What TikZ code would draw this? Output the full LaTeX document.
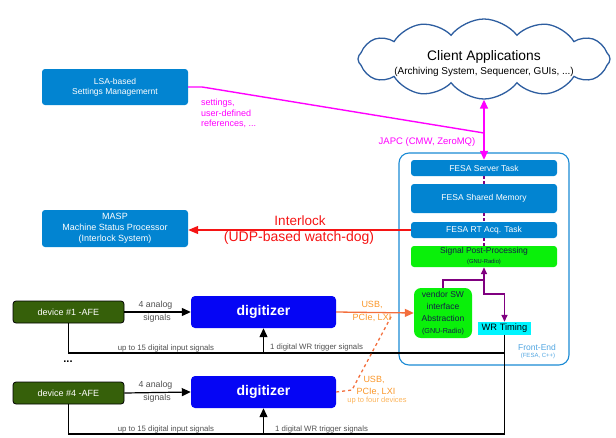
\documentclass[tikz,border=0pt]{standalone}
\usepackage{fontspec}
\setmainfont{Liberation Sans}
\usetikzlibrary{shapes.symbols,arrows.meta,calc}
\definecolor{fesablue}{RGB}{2,132,209}
\definecolor{feborder}{RGB}{26,138,212}
\definecolor{digblue}{RGB}{5,5,245}
\definecolor{devgreen}{RGB}{54,96,10}
\definecolor{brgreen}{RGB}{10,240,10}
\definecolor{wrcyan}{RGB}{0,245,255}
\definecolor{mypurple}{RGB}{128,0,128}
\definecolor{mymagenta}{RGB}{255,0,255}
\definecolor{myred}{RGB}{245,20,20}
\definecolor{orline}{RGB}{243,110,60}
\definecolor{ortext}{RGB}{250,150,40}
\definecolor{ortextl}{RGB}{252,180,90}
\definecolor{sigtext}{RGB}{80,80,80}
\definecolor{felabel}{RGB}{80,165,225}
\definecolor{cloudb}{RGB}{46,94,160}
\definecolor{darktext}{RGB}{20,30,70}
\tikzset{
  fsz/.style={font={\pgfmathsetmacro\myfszb{#1*1.2}\fontsize{#1}{\myfszb}\selectfont}},
  bluebox/.style={fill=fesablue, draw=none, rounded corners=3pt, text=white, align=center, fsz=8.5, inner sep=0pt},
  greenbox/.style={fill=brgreen, draw=none, rounded corners=3pt, text=darktext, align=center, inner sep=0pt},
  devbox/.style={fill=devgreen, draw=black, line width=0.8pt, rounded corners=3pt, text=white, fsz=9, minimum width=111pt, minimum height=22pt, inner sep=0pt},
  digbox/.style={fill=digblue, draw=none, rounded corners=4pt, text=white, font=\fontsize{14}{16}\selectfont\bfseries, minimum width=145pt, minimum height=32pt, inner sep=0pt},
  blk/.style={draw=black, line width=1.2pt},
  tri/.style={-{Triangle[length=9pt,width=8pt]}},
  sigl/.style={text=sigtext, fsz=7.8, inner sep=0pt},
  anl/.style={text=sigtext, fsz=8.8, inner sep=0pt, align=center},
  purp/.style={draw=mypurple, line width=1.5pt},
  mag/.style={draw=mymagenta, line width=1.4pt},
  ortx/.style={text=ortext, fsz=9, inner sep=0pt},
}
\begin{document}
\begin{tikzpicture}[x=1pt,y=-1pt]
\useasboundingbox (0,0) rectangle (616,437);
% cloud
\node[cloud, cloud puffs=12, cloud puff arc=105, aspect=3.1, draw=cloudb, line width=1.3pt, fill=white,
  minimum width=252pt, minimum height=80pt, inner sep=0pt] (cloud) at (484,59) {};
\node[fsz=13.8, inner sep=0pt] (ct1) at (484,57) {Client Applications};
\node[fsz=10, inner sep=0pt] (ct2) at (484,72) {(Archiving System, Sequencer, GUIs, ...)};
% left boxes
\node[bluebox, minimum width=146pt, minimum height=36pt] (lsa) at (115,87) {LSA-based\\Settings Managemernt};
\node[bluebox, fsz=9, minimum width=146pt, minimum height=37pt] (masp) at (115,228.5) {MASP\\Machine Status Processor\\(Interlock System)};
% front-end container
\node[draw=feborder, line width=1.1pt, rounded corners=10pt, minimum width=170pt, minimum height=212pt, inner sep=0pt] (fe) at (484,259) {};
\node[text=felabel, fsz=8.5, inner sep=0pt] (felab) at (537,347.5) {Front-End};
\node[text=felabel, fsz=6, inner sep=0pt] (felab2) at (538,356) {(FESA, C++)};
% FESA stack
\node[bluebox, minimum width=146pt, minimum height=16pt] (fst) at (484,168) {FESA Server Task};
\node[bluebox, minimum width=146pt, minimum height=29pt] (fsm) at (484,198.5) {FESA Shared Memory};
\node[bluebox, minimum width=146pt, minimum height=16pt] (rt) at (484,230) {FESA RT Acq. Task};
\node[greenbox, minimum width=146pt, minimum height=21pt] (post) at (484,256.5)
  {{\fontsize{8.5}{9.5}\selectfont Signal Post-Processing}\\[-2pt]{\fontsize{5.8}{6.5}\selectfont (GNU-Radio)}};
\node[greenbox, rounded corners=7pt, minimum width=58pt, minimum height=50pt] (vendor) at (443,313)
  {{\fontsize{8.5}{9.5}\selectfont vendor SW}\\{\fontsize{8.5}{9.5}\selectfont interface}\\{\fontsize{8.5}{9.5}\selectfont Abstraction}\\{\fontsize{7.2}{8}\selectfont (GNU-Radio)}};
\node[fill=wrcyan, minimum width=53pt, minimum height=13pt, inner sep=0pt, fsz=9.3, text=black] (wr) at (504.5,328.5) {WR Timing};
% devices and digitizers
\node[devbox] (dev1) at (68.5,312) {device \#1 -AFE};
\node[devbox] (dev4) at (68.5,393) {device \#4 -AFE};
\node[digbox] (dig1) at (263.5,312) {digitizer};
\node[digbox] (dig2) at (263.5,392) {digitizer};
\node[font=\fontsize{11}{12}\selectfont\bfseries, inner sep=0pt] (dots) at (68,362) {...};
% coordinates
\coordinate (wrA) at (504.5,353);
\coordinate (wrB) at (504.5,434);
\coordinate (japc) at (484,133);
\coordinate (pj) at (484,280);
\coordinate (oj) at (392,315);
% black connectors
\draw[blk] (dev1.south) |- (wrA);
\draw[blk] (wr.south) -- (wrB) -| (dev4.south);
\draw[blk, tri] (dig1.south |- wrA) -- (dig1.south);
\draw[blk, tri] (dig2.south |- wrB) -- (dig2.south);
\draw[blk, tri] (dev1.east) -- (dig1.west);
\draw[blk, tri] (dev4.east) -- (dig2.west);
% signal labels
\node[anl] (a1) at (155.5,305) {4 analog};
\node[anl] (a2) at (157,318) {signals};
\node[anl] (a3) at (155.5,385) {4 analog};
\node[anl] (a4) at (157,398) {signals};
\node[sigl] (l1) at (166,348) {up to 15 digital input signals};
\node[sigl, anchor=west] (l2) at (270,347) {1 digital WR trigger signals};
\node[sigl] (l3) at (166,429) {up to 15 digital input signals};
\node[sigl, anchor=west] (l4) at (275,429) {1 digital WR trigger signals};
% orange
\draw[orline, line width=1.3pt, -{Triangle[length=9pt,width=8pt]}] (dig1.east) -- (vendor.west);
\draw[orline, line width=1.3pt, dashed, dash pattern=on 3pt off 3pt] (dig2.east) -- (352,390) -- (oj);
\node[ortx] (u1) at (372,305) {USB,};
\node[ortx] (u2) at (372,318) {PCIe, LXI};
\node[ortx] (u3) at (374,380) {USB,};
\node[ortx] (u4) at (376,392) {PCIe, LXI};
\node[text=ortextl, fsz=7.5, inner sep=0pt] (u5) at (377,400.5) {up to four devices};
% purple
\draw[purp, dashed, dash pattern=on 3pt off 2pt] (fst) -- (fsm);
\draw[purp, dashed, dash pattern=on 3pt off 2pt] (fsm) -- (rt);
\draw[purp, dashed, dash pattern=on 3pt off 2pt] (rt) -- (post);
\draw[purp, -{Triangle[length=7pt,width=6pt]}] (vendor.north) |- (pj) -- (post.south);
\draw[purp, -{Triangle[length=7pt,width=6pt]}] (pj) -- ++(0,14) -| (wr.north);
% magenta
\draw[mag, {Triangle[length=9pt,width=8pt]}-{Triangle[length=9pt,width=8pt]}] (cloud.south) -- (fst.north);
\draw[mag] (lsa.east) -- ++(14,0) -- (japc);
\node[text=mymagenta, font={\fontsize{9}{10.5}\selectfont}, anchor=north west, align=left, inner sep=0pt] (setl) at (201,99) {settings,\\user-defined\\references, ...};
\node[text=mymagenta, fsz=9.5, inner sep=0pt] (japcl) at (427,142.5) {JAPC (CMW, ZeroMQ)};
% interlock
\draw[myred, line width=1.3pt, -{Triangle[length=10pt,width=8pt]}] (rt.west) -- (rt.west -| masp.east);
\node[text=myred, fsz=13.5, inner sep=0pt] (il1) at (300,221) {Interlock};
\node[text=myred, fsz=14, inner sep=0pt] (il2) at (299,238) {(UDP-based watch-dog)};
\end{tikzpicture}
\end{document}
